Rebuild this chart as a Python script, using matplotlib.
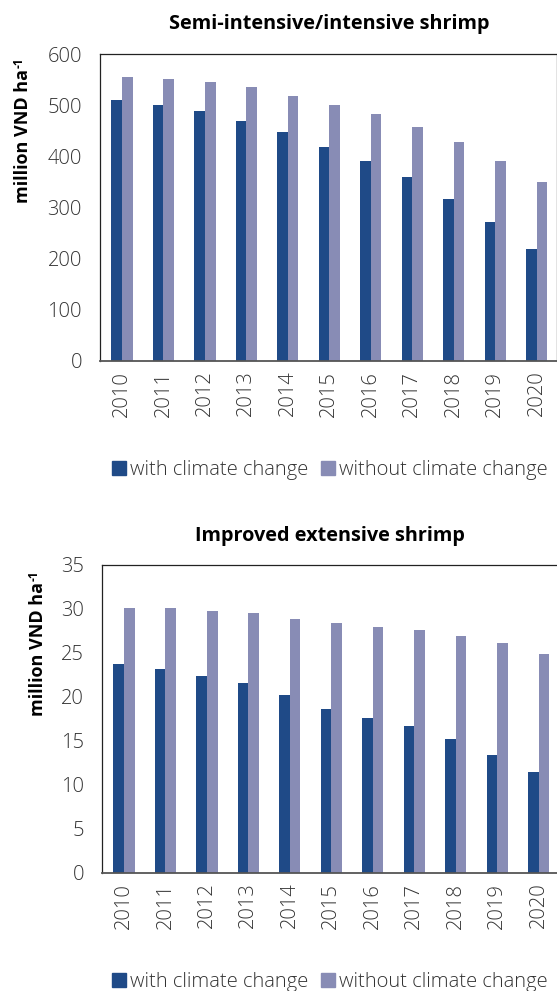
import matplotlib
matplotlib.use("Agg")
import matplotlib.pyplot as plt
from matplotlib.patches import Patch
import numpy as np

years = ["2010", "2011", "2012", "2013", "2014", "2015", "2016", "2017", "2018", "2019", "2020"]
semi_with = [510, 500, 488, 470, 448, 418, 391, 360, 317, 272, 218]
semi_without = [555, 551, 545, 535, 518, 500, 483, 458, 428, 390, 350]
impr_with = [23.8, 23.2, 22.4, 21.6, 20.2, 18.6, 17.6, 16.7, 15.2, 13.4, 11.5]
impr_without = [30.1, 30.1, 29.8, 29.6, 28.9, 28.4, 27.9, 27.6, 26.9, 26.1, 24.9]
series_labels = ["with climate change", "without climate change"]
titles = ["Semi-intensive/intensive shrimp", "Improved extensive shrimp"]

C_DARK = "#1f4a87"
C_LIGHT = "#888cb5"
TXT = "#333333"

plt.rcParams['font.family'] = ['Open Sans', 'DejaVu Sans']

W, H = 557, 991
fig = plt.figure(figsize=(W / 100, H / 100), dpi=100)

def px_axes(left, top, right, bottom):
    return fig.add_axes([left / W, 1 - bottom / H, (right - left) / W, (bottom - top) / H])

def draw(ax, vwith, vwithout, ymax, ystep):
    x = np.arange(len(years))
    bw = 0.255
    ax.bar(x - bw / 2, vwith, width=bw, color=C_DARK, zorder=2)
    ax.bar(x + bw / 2, vwithout, width=bw, color=C_LIGHT, zorder=2)
    ax.set_xlim(-0.53, 10.5)
    ax.set_ylim(0, ymax)
    ax.set_yticks(np.arange(0, ymax + ystep / 2, ystep))
    ax.set_xticks(x)
    ax.set_xticklabels(years, rotation=90)
    ax.tick_params(length=0, labelsize=14.5, colors=TXT)
    ax.tick_params(axis='y', pad=13)
    ax.tick_params(axis='x', pad=7)
    for lab in ax.get_xticklabels() + ax.get_yticklabels():
        lab.set_fontweight('light')
        lab.set_color(TXT)
    for s in ax.spines.values():
        s.set_color("#222222")
        s.set_linewidth(0.9)
    ax.spines['bottom'].set_color("#555555")
    ax.spines['bottom'].set_linewidth(1.3)

ax1 = px_axes(100, 54, 557.5, 361)
draw(ax1, semi_with, semi_without, 600, 100)
ax2 = px_axes(102, 565, 559.5, 873)
draw(ax2, impr_with, impr_without, 35, 5)

fig.text(329 / W, 1 - 24 / H, titles[0], ha='center', va='center', fontsize=14.3, fontweight='bold', color='black')
fig.text(330 / W, 1 - 536 / H, titles[1], ha='center', va='center', fontsize=14.3, fontweight='bold', color='black')

def ylabel(xc, yc):
    t = fig.text(xc / W, 1 - yc / H, "million VND ha", rotation=90, ha='center', va='center',
                 fontsize=13, fontweight='bold', color='black')
    return t

# y-label with superscript -1 drawn as a separate small text above the main label
for xc, yc in ((23, 136), (38, 649)):
    t = ylabel(xc, yc)
    fig.canvas.draw()
    bb = t.get_window_extent()
    fig.text((bb.x0 - 1) / W, (bb.y1 + 1) / H, "-1", rotation=90, ha='left', va='bottom',
             fontsize=8.5, fontweight='bold', color='black')

handles = [Patch(color=C_DARK), Patch(color=C_LIGHT)]
for yc in (470, 982):
    leg = fig.legend(handles, series_labels, loc='center', bbox_to_anchor=(330 / W, 1 - yc / H),
                     ncol=2, frameon=False, fontsize=14.5, handlelength=0.68, handleheight=0.68,
                     handletextpad=0.2, columnspacing=0.65, borderpad=0)
    for t in leg.get_texts():
        t.set_color(TXT)
        t.set_fontweight('light')

fig.savefig("out.png", dpi=100)
